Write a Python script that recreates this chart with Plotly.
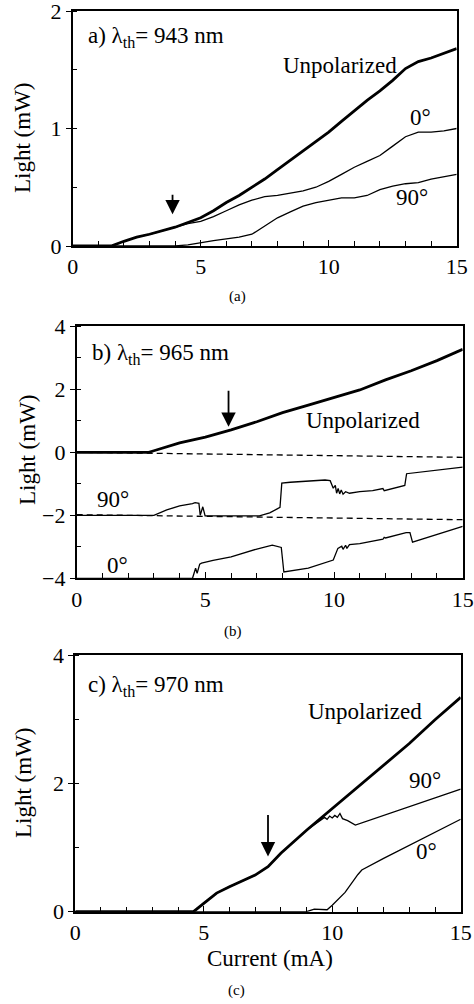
import plotly.graph_objects as go

FONT = "Liberation Serif"

# ---------------- Panel (a) data ----------------
a_x = [0, 1, 1.5, 2, 2.5, 3, 3.5, 4, 4.5, 5, 5.5, 6, 6.5, 7, 7.5, 8, 8.5, 9, 9.5,
       10, 10.5, 11, 11.5, 12, 12.5, 13, 13.5, 14, 14.5, 15]
a_unpol = [0, 0, 0.0, 0.04, 0.075, 0.10, 0.13, 0.16, 0.20, 0.24, 0.30, 0.37, 0.43, 0.50,
           0.57, 0.65, 0.73, 0.81, 0.89, 0.97, 1.06, 1.15, 1.24, 1.32, 1.41, 1.51, 1.57,
           1.60, 1.64, 1.68]
a_0deg = [0, 0, 0.0, 0.04, 0.075, 0.10, 0.13, 0.16, 0.19, 0.21, 0.25, 0.30, 0.35, 0.39,
          0.42, 0.43, 0.45, 0.47, 0.50, 0.55, 0.61, 0.67, 0.72, 0.77, 0.85, 0.93, 0.97,
          0.97, 0.98, 1.0]
a_90deg = [0, 0, 0, 0, 0, 0, 0, 0.0, 0.01, 0.03, 0.045, 0.06, 0.075, 0.10, 0.17, 0.24,
           0.29, 0.34, 0.37, 0.39, 0.41, 0.41, 0.43, 0.48, 0.51, 0.53, 0.54, 0.57, 0.59, 0.61]

# ---------------- Panel (b) data ----------------
b_unpol_x = [0, 2.8, 3, 3.5, 4, 5, 6, 7, 8, 9, 10, 11, 12, 13, 14, 15]
b_unpol_y = [0, 0, 0.05, 0.18, 0.3, 0.48, 0.71, 0.97, 1.26, 1.5, 1.74, 1.98, 2.3, 2.59, 2.91, 3.27]

b_90_x = [0, 3, 3.5, 4, 4.5, 4.6, 4.75, 4.8, 4.9, 4.99, 5.1, 7.1, 7.5, 7.9, 7.97, 8.3,
          9.65, 9.85, 9.97, 10.05, 10.1, 10.16, 10.22, 10.28, 10.35, 10.45, 10.6, 11,
          11.5, 11.9, 11.95, 12.05, 12.75, 12.82, 15]
b_90_y = [-2, -2, -1.83, -1.7, -1.63, -1.6, -1.62, -2.0, -1.73, -2.02, -2.02, -2.02, -1.92,
          -1.75, -0.98, -0.95, -0.88, -0.9, -1.14, -1.05, -1.3, -1.15, -1.32, -1.2, -1.33,
          -1.25, -1.3, -1.25, -1.22, -1.15, -1.22, -1.2, -1.05, -0.68, -0.47]

b_0_x = [0, 4.5, 4.62, 4.68, 4.78, 4.85, 5.3, 6, 7, 7.6, 7.95, 8.05, 9, 9.97, 10.15,
         10.3, 10.35, 10.45, 10.5, 10.6, 11, 11.5, 11.9, 11.95, 12.0, 12.8, 12.95, 13.05, 15]
b_0_y = [-4, -4, -3.68, -3.84, -3.55, -3.52, -3.43, -3.32, -3.07, -2.95, -3.02, -3.8,
         -3.68, -3.42, -3.05, -2.98, -3.08, -2.95, -3.05, -2.93, -2.9, -2.82, -2.76, -2.7,
         -2.72, -2.55, -2.55, -2.85, -2.35]

b_base_x = [0, 15]
b_base0_y = [0, -0.16]
b_base2_y = [-1.98, -2.14]

# ---------------- Panel (c) data ----------------
c_unpol_x = [0, 4.6, 5, 5.5, 6, 7, 7.5, 8, 9, 10, 11, 12, 13, 14, 15]
c_unpol_y = [0, 0, 0.13, 0.29, 0.39, 0.57, 0.7, 0.91, 1.27, 1.61, 1.95, 2.29, 2.62, 2.99, 3.34]

c_90_x = [0, 4.6, 5, 5.5, 6, 7, 7.5, 8, 9, 9.5, 9.7, 9.8, 9.9, 10.0, 10.1, 10.2, 10.3,
          10.4, 10.6, 10.9, 12, 13, 14, 15]
c_90_y = [0, 0, 0.13, 0.29, 0.39, 0.57, 0.7, 0.91, 1.27, 1.42, 1.47, 1.44, 1.49, 1.46,
          1.5, 1.47, 1.53, 1.45, 1.42, 1.35, 1.5, 1.63, 1.77, 1.91]

c_0_x = [0, 9.0, 9.3, 9.6, 9.8, 10, 10.5, 11, 11.15, 12, 13, 14, 15]
c_0_y = [0, 0, 0.04, 0.03, 0.03, 0.1, 0.3, 0.58, 0.65, 0.83, 1.03, 1.23, 1.44]

# ---------------- Labels ----------------
panel_titles = ["a) λ<sub>th</sub>= 943 nm", "b) λ<sub>th</sub>= 965 nm", "c) λ<sub>th</sub>= 970 nm"]
panel_captions = ["(a)", "(b)", "(c)"]
y_title = "Light (mW)"
x_title = "Current (mA)"

# arrows: x, y_top, y_tip
arrow_x = [3.9, 5.9, 7.5]
arrow_top = [0.45, 2.0, 1.53]
arrow_tip = [0.27, 0.81, 0.86]

W, H = 474, 1004
# pixel geometry of each panel: (x0, x1, ytop, ybottom)
panels = [(72.7, 456.7, 11.0, 246.0), (76.7, 462.7, 326.3, 578.3), (75.3, 460.7, 655.0, 911.7)]
yranges = [[0, 2], [-4, 4], [0, 4]]
ydticks = [1, 2, 2]
yminor = [0.5, 1, 1]

fig = go.Figure()

thick = dict(color="black", width=2.8)
thin = dict(color="black", width=1.3)

# panel a
fig.add_trace(go.Scatter(x=a_x, y=a_90deg, mode="lines", line=thin, xaxis="x", yaxis="y"))
fig.add_trace(go.Scatter(x=a_x, y=a_0deg, mode="lines", line=thin, xaxis="x", yaxis="y"))
fig.add_trace(go.Scatter(x=a_x, y=a_unpol, mode="lines", line=thick, xaxis="x", yaxis="y"))
# panel b
fig.add_trace(go.Scatter(x=b_base_x, y=b_base0_y, mode="lines",
                         line=dict(color="black", width=1.3, dash="6px,4px"), xaxis="x2", yaxis="y2"))
fig.add_trace(go.Scatter(x=b_base_x, y=b_base2_y, mode="lines",
                         line=dict(color="black", width=1.3, dash="6px,4px"), xaxis="x2", yaxis="y2"))
fig.add_trace(go.Scatter(x=b_90_x, y=b_90_y, mode="lines", line=thin, xaxis="x2", yaxis="y2"))
fig.add_trace(go.Scatter(x=b_0_x, y=b_0_y, mode="lines", line=thin, xaxis="x2", yaxis="y2"))
fig.add_trace(go.Scatter(x=b_unpol_x, y=b_unpol_y, mode="lines", line=thick, xaxis="x2", yaxis="y2"))
# panel c
fig.add_trace(go.Scatter(x=c_0_x, y=c_0_y, mode="lines", line=thin, xaxis="x3", yaxis="y3"))
fig.add_trace(go.Scatter(x=c_90_x, y=c_90_y, mode="lines", line=thin, xaxis="x3", yaxis="y3"))
fig.add_trace(go.Scatter(x=c_unpol_x, y=c_unpol_y, mode="lines", line=thick, xaxis="x3", yaxis="y3"))

tickfont = dict(family=FONT, size=22, color="black")
layout = dict(
    width=W, height=H, showlegend=False,
    font=dict(family=FONT, size=22, color="black"),
    margin=dict(l=0, r=0, t=0, b=0, pad=0, autoexpand=False),
    paper_bgcolor="white", plot_bgcolor="white",
)
for i, (x0, x1, yt, yb) in enumerate(panels):
    sfx = "" if i == 0 else str(i + 1)
    layout["xaxis" + sfx] = dict(
        domain=[x0 / W, x1 / W], range=[0, 15], anchor="y" + sfx, automargin=False,
        tickvals=[0, 5, 10, 15], ticks="inside", ticklen=6, tickwidth=1.3, tickcolor="black",
        minor=dict(dtick=1, ticks="inside", ticklen=5, tickwidth=1.2, tickcolor="black"),
        showline=True, linecolor="black", linewidth=1.8, mirror=True,
        showgrid=False, zeroline=False, tickfont=tickfont, ticklabeloverflow="allow",
    )
    layout["yaxis" + sfx] = dict(
        domain=[1 - yb / H, 1 - yt / H], range=yranges[i], anchor="x" + sfx, automargin=False,
        dtick=ydticks[i], ticks="outside", ticklen=5, tickwidth=1.3, tickcolor="black",
        minor=dict(dtick=yminor[i], ticks="inside", ticklen=4, tickwidth=1.2, tickcolor="black",
                   showgrid=False),
        showline=True, linecolor="black", linewidth=1.8, mirror=True,
        showgrid=False, zeroline=False, tickfont=tickfont, ticklabeloverflow="allow",
    )
fig.update_layout(**layout)

ann = []
lab_font = dict(family=FONT, size=23, color="black")
# panel titles
title_pos = [(0.5, 1.78), (0.52, 3.12), (0.42, 3.52)]
for i, (tx, ty) in enumerate(title_pos):
    sfx = "" if i == 0 else str(i + 1)
    ann.append(dict(x=tx, y=ty, xref="x" + sfx, yref="y" + sfx, text=panel_titles[i],
                    showarrow=False, xanchor="left", yanchor="middle", font=lab_font))
# curve labels
curve_labels = [
    ("", "Unpolarized", 10.44, 1.54), ("", "0°", 13.57, 1.09), ("", "90°", 13.24, 0.41),
    ("2", "Unpolarized", 11.14, 1.0), ("2", "90°", 1.42, -1.49), ("2", "0°", 1.58, -3.58),
    ("3", "Unpolarized", 11.28, 3.12), ("3", "90°", 13.6, 2.05), ("3", "0°", 13.68, 0.94),
]
for sfx, t, tx, ty in curve_labels:
    ann.append(dict(x=tx, y=ty, xref="x" + sfx, yref="y" + sfx, text=t, showarrow=False,
                    xanchor="center", yanchor="middle", font=lab_font))
# arrows
for i in range(3):
    sfx = "" if i == 0 else str(i + 1)
    ann.append(dict(x=arrow_x[i], y=arrow_tip[i], ax=arrow_x[i], ay=arrow_top[i],
                    xref="x" + sfx, yref="y" + sfx, axref="x" + sfx, ayref="y" + sfx,
                    text="", showarrow=True, arrowhead=2, arrowsize=1.6, arrowwidth=1.8,
                    arrowcolor="black"))
# y titles
ytitle_pos = [(22, 138), (27, 450), (23, 783)]
for (px, py) in ytitle_pos:
    ann.append(dict(x=px / W, y=1 - py / H, xref="paper", yref="paper", text=y_title,
                    textangle=-90, showarrow=False, xanchor="center", yanchor="middle",
                    font=lab_font))
# x title
ann.append(dict(x=270 / W, y=1 - 958 / H, xref="paper", yref="paper", text=x_title,
                showarrow=False, xanchor="center", yanchor="middle", font=lab_font))
# captions
cap_pos = [(237, 297), (233, 631), (236, 990)]
for i, (px, py) in enumerate(cap_pos):
    ann.append(dict(x=px / W, y=1 - py / H, xref="paper", yref="paper", text=panel_captions[i],
                    showarrow=False, xanchor="center", yanchor="middle",
                    font=dict(family=FONT, size=15, color="black")))
fig.update_layout(annotations=ann)

fig.write_html("out.html", config={"displayModeBar": False},
               post_script="document.body.style.margin='0px';")
